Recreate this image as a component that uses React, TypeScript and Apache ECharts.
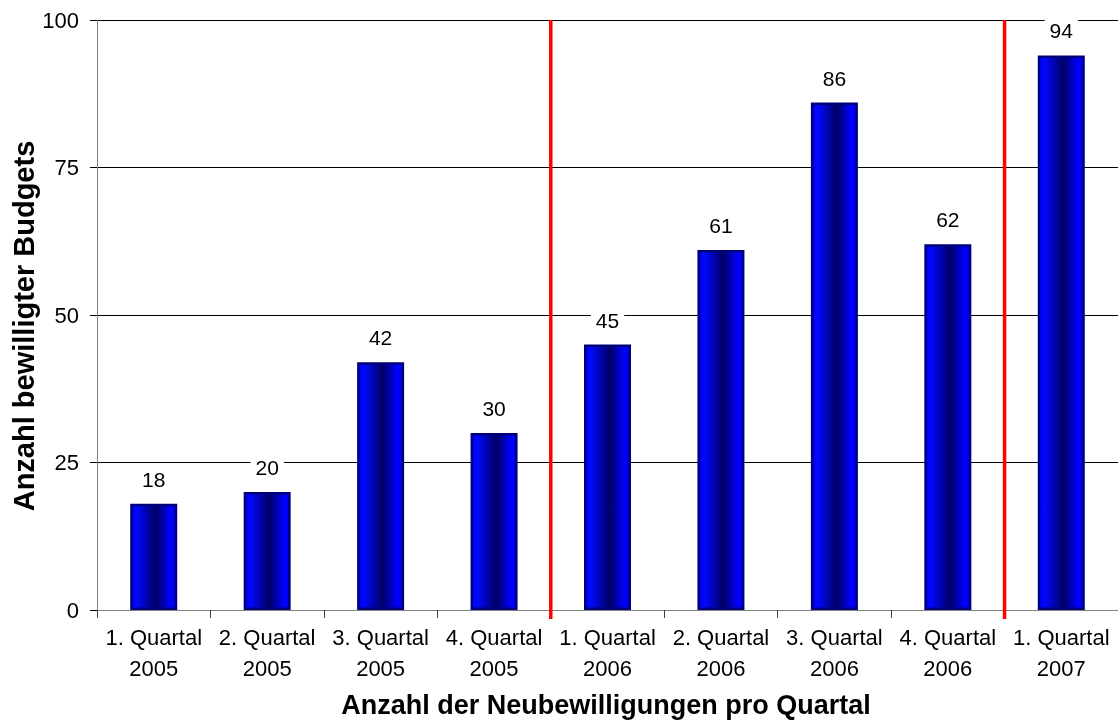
import React, { useEffect, useRef } from "react";
import * as echarts from "echarts";

const categories = [
  "1. Quartal\n2005",
  "2. Quartal\n2005",
  "3. Quartal\n2005",
  "4. Quartal\n2005",
  "1. Quartal\n2006",
  "2. Quartal\n2006",
  "3. Quartal\n2006",
  "4. Quartal\n2006",
  "1. Quartal\n2007",
];
const values = [18, 20, 42, 30, 45, 61, 86, 62, 94];
const yearSeparators = [4, 8];
const yTitle = "Anzahl bewilligter Budgets";
const xTitle = "Anzahl der Neubewilligungen pro Quartal";

const FONT = "'Liberation Sans', Arial, Helvetica, sans-serif";

export default function App() {
  const ref = useRef<HTMLDivElement>(null);
  useEffect(() => {
    if (!ref.current) return;
    const chart = echarts.init(ref.current, null, { renderer: "svg" });
    const barColor = new echarts.graphic.LinearGradient(0, 0, 1, 0, [
      { offset: 0, color: "#0000f0" },
      { offset: 0.12, color: "#0008ff" },
      { offset: 0.55, color: "#000064" },
      { offset: 0.88, color: "#0000ff" },
      { offset: 1, color: "#0000f0" },
    ]);
    chart.setOption({
      animation: false,
      textStyle: { fontFamily: FONT },
      grid: { left: 97, top: 20, width: 1023, height: 590, containLabel: false },
      xAxis: [
        {
          type: "category",
          data: categories,
          boundaryGap: true,
          axisLine: { show: true, lineStyle: { color: "#808080", width: 1 } },
          axisTick: { show: true, length: 8, lineStyle: { color: "#404040" } },
          axisLabel: {
            color: "#000",
            fontSize: 22,
            lineHeight: 31,
            margin: 12,
            interval: 0,
            fontFamily: FONT,
          },
          splitLine: { show: false },
        },
        {
          type: "value",
          min: 0,
          max: 9,
          show: false,
        },
      ],
      yAxis: {
        type: "value",
        min: 0,
        max: 100,
        interval: 25,
        axisLine: { show: true, lineStyle: { color: "#808080", width: 1 } },
        axisTick: { show: true, length: 7, lineStyle: { color: "#000" } },
        axisLabel: { color: "#000", fontSize: 22, margin: 18, fontFamily: FONT },
        splitLine: { show: true, lineStyle: { color: "#000", width: 1 } },
      },
      series: [
        {
          type: "bar",
          data: values,
          barWidth: 47,
          itemStyle: {
            color: barColor,
            borderColor: "#00007a",
            borderWidth: 2.5,
          },
          label: {
            show: true,
            position: "top",
            distance: 12,
            color: "#000",
            fontSize: 21,
            fontFamily: FONT,
            backgroundColor: "#fff",
            padding: [2, 5],
          },
          z: 2,
        },
        {
          type: "custom",
          xAxisIndex: 1,
          yAxisIndex: 0,
          clip: false,
          z: 3,
          silent: true,
          data: yearSeparators.map((s) => [s, 0]),
          renderItem: (params: any, api: any) => {
            const top = api.coord([api.value(0), 100]);
            const bot = api.coord([api.value(0), 0]);
            return {
              type: "line",
              shape: { x1: top[0], y1: top[1], x2: bot[0], y2: bot[1] + 9 },
              style: { stroke: "#ff0000", lineWidth: 3.5 },
            };
          },
        },
      ],
      graphic: [
        {
          type: "text",
          x: 24,
          y: 326,
          rotation: Math.PI / 2,
          style: {
            text: yTitle,
            fill: "#000",
            font: `bold 29px ${FONT}`,
            textAlign: "center",
            textVerticalAlign: "middle",
          },
        },
        {
          type: "text",
          x: 606,
          y: 705,
          style: {
            text: xTitle,
            fill: "#000",
            font: `bold 27px ${FONT}`,
            textAlign: "center",
            textVerticalAlign: "middle",
          },
        },
      ],
    });
    return () => chart.dispose();
  }, []);
  return (
    <div
      ref={ref}
      style={{ position: "fixed", left: 0, top: 0, width: 1118, height: 720 }}
    />
  );
}
